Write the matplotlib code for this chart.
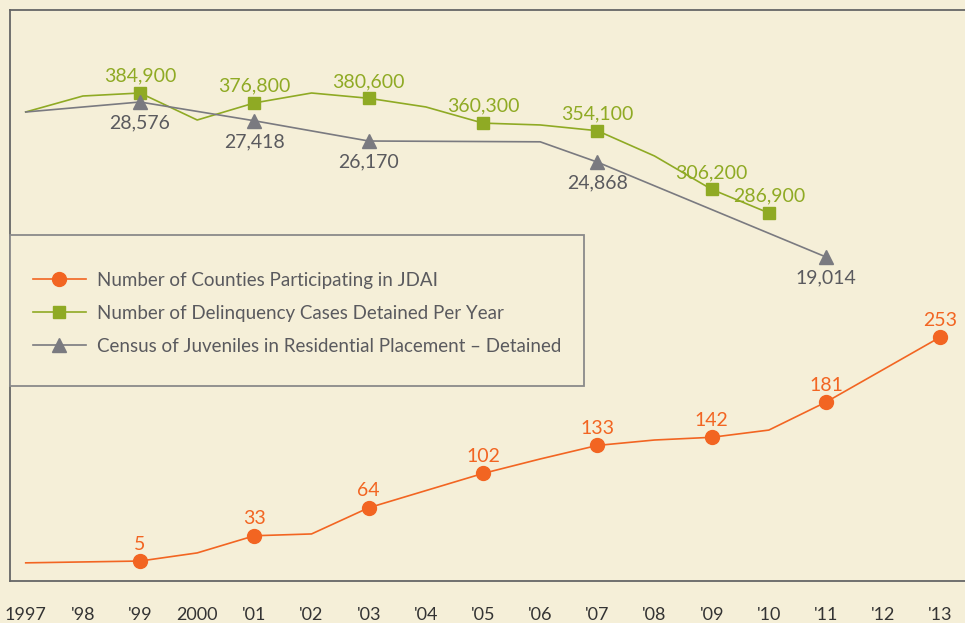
import matplotlib
matplotlib.use("Agg")
import matplotlib.pyplot as plt
from matplotlib.patches import Rectangle
from matplotlib.lines import Line2D

# ---- data ----
years = list(range(1997, 2014))
tick_labels = ["1997", "'98", "'99", "2000", "'01", "'02", "'03", "'04", "'05",
               "'06", "'07", "'08", "'09", "'10", "'11", "'12", "'13"]

counties = [3, 4, 5, 14, 33, 35, 64, 83, 102, 118, 133, 139, 142, 150, 181, 217, 253]
counties_lab = [1999, 2001, 2003, 2005, 2007, 2009, 2011, 2013]

cases_yr = [1997, 1998, 1999, 2000, 2001, 2002, 2003, 2004, 2005, 2006, 2007, 2008, 2009, 2010]
cases = [369400, 382450, 384900, 362850, 376800, 384900, 380600, 373500, 360300,
         358800, 354100, 333450, 306200, 286900]
cases_lab = [1999, 2001, 2003, 2005, 2007, 2009, 2010]

census_yr = [1997, 1999, 2001, 2003, 2006, 2007, 2011]
census = [27960, 28576, 27418, 26170, 26120, 24868, 19014]
census_lab = [1999, 2001, 2003, 2007, 2011]

ORANGE = "#F26522"
GREEN = "#8FAA24"
GREY = "#7A7A80"
BG = "#F5EFD8"
FONT = "Lato"

plt.rcParams['font.family'] = [FONT, 'DejaVu Sans']

fig = plt.figure(figsize=(9.65, 6.23), dpi=100, facecolor=BG)
ax = fig.add_axes([10/965, 1-581/623, 1-10/965+0.01, 571/623])
ax.set_facecolor(BG)
ax2 = ax.twinx()
ax3 = ax.twinx()

for a in (ax, ax2, ax3):
    for s in a.spines.values():
        s.set_visible(False)
    a.set_yticks([])
    a.patch.set_visible(False)
ax.patch.set_visible(True)
for s in ('left', 'top', 'bottom'):
    ax.spines[s].set_visible(True)
    ax.spines[s].set_color("#666666")
    ax.spines[s].set_linewidth(1.3)

ax.set_xlim(1996.725, 2013.6)
ax.set_xticks(years)
ax.set_xticklabels(tick_labels, fontsize=13, color="#333333")
ax.tick_params(axis='x', length=0, pad=19)

# each series on its own scale
ax.set_ylim(-17.1, 615.1)
ax2.set_ylim(-13650, 452690)
ax3.set_ylim(-974, 34252)

# orange - counties
ax.plot(years, counties, color=ORANGE, lw=1.2, zorder=3)
cx = counties_lab
cy = [counties[years.index(y)] for y in counties_lab]
ax.plot(cx, cy, 'o', color=ORANGE, ms=10, zorder=4)
for x, v in zip(cx, cy):
    ax.annotate(str(v), (x, v), xytext=(0, 6), textcoords='offset points',
                ha='center', va='bottom', fontsize=14, color=ORANGE)

# grey - census (drawn under green)
ax3.plot(census_yr, census, color=GREY, lw=1.2, zorder=2)
gx = census_lab
gy = [census[census_yr.index(y)] for y in census_lab]
ax3.plot(gx, gy, '^', color=GREY, ms=10, zorder=4)
for x, v in zip(gx, gy):
    ax3.annotate(f"{v:,}", (x, v), xytext=(0, -9), textcoords='offset points',
                 ha='center', va='top', fontsize=14, color="#5A5A5E")

# green - delinquency cases
ax2.plot(cases_yr, cases, color=GREEN, lw=1.2, zorder=3)
sx = cases_lab
sy = [cases[cases_yr.index(y)] for y in cases_lab]
ax2.plot(sx, sy, 's', color=GREEN, ms=9, zorder=4)
for x, v in zip(sx, sy):
    ax2.annotate(f"{v:,}", (x, v), xytext=(0, 6), textcoords='offset points',
                 ha='center', va='bottom', fontsize=14, color=GREEN)

# legend box
box = Rectangle((10/965, 1-386/623), 574/965, 151/623, transform=fig.transFigure,
                facecolor=BG, edgecolor="#8A8A8A", lw=1.3, zorder=10)
fig.patches.append(box)
handles = [
    Line2D([], [], color=ORANGE, lw=1.2, marker='o', ms=10),
    Line2D([], [], color=GREEN, lw=1.2, marker='s', ms=9),
    Line2D([], [], color=GREY, lw=1.2, marker='^', ms=10),
]
names = ["Number of Counties Participating in JDAI",
         "Number of Delinquency Cases Detained Per Year",
         "Census of Juveniles in Residential Placement \u2013 Detained"]
leg = fig.legend(handles, names, loc='upper left',
                 bbox_to_anchor=(33/965, 1-272/623), frameon=False, borderpad=0,
                 borderaxespad=0, fontsize=13.5, labelcolor="#5A5A5E",
                 handlelength=2.8, handletextpad=0.6, labelspacing=0.85)
leg.set_zorder(11)

fig.savefig("out.png", dpi=100, facecolor=BG)
